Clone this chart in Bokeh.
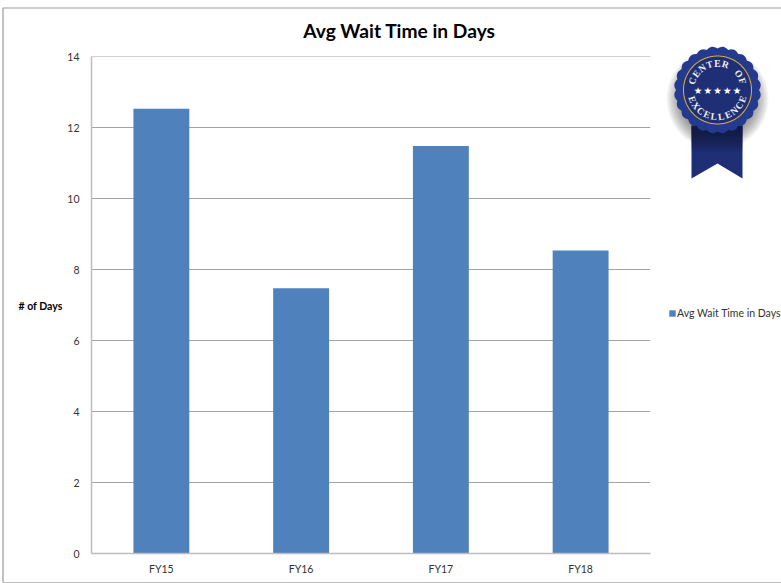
import math
from bokeh.plotting import figure
from bokeh.embed import file_html
from bokeh.layouts import column
from bokeh.resources import INLINE
from bokeh.core.properties import value
from bokeh.models import (ColumnDataSource, Range1d, FactorRange, Legend, LegendItem, FixedTicker)

categories = ["FY15", "FY16", "FY17", "FY18"]
avg_wait_days = [12.54, 7.48, 11.49, 8.54]
y_ticks = [0, 2, 4, 6, 8, 10, 12, 14]
title_text = "Avg Wait Time in Days"
series_name = "Avg Wait Time in Days"
y_label = "# of Days"
BAR = "#4f81bd"
FONT = "Lato"
W, H = 781, 583
FL, FB = 91, 553

# ---------- page layer: border, title, legend, badge, in page pixels ----------
d = figure(width=W, height=H, output_backend="svg", toolbar_location=None,
           x_range=Range1d(0, W), y_range=Range1d(H, 0), min_border=0,
           x_axis_location=None, y_axis_location=None, title=None, frame_align=False)
d.grid.visible = False
d.outline_line_color = None
d.margin = (0, 0, -H, 0)


def text(x, y, s, size, color="#000000", style="normal", font=FONT, angle=0.0):
    d.text(x=[x], y=[y], text=[s], text_font=value(font), text_font_size=value(size), text_color=color,
           text_font_style=style, angle=angle, text_align="center", text_baseline="middle")


d.line([785, 2.5, 2.5], [7.5, 7.5, 582], line_color="#9a9a9a", line_width=1.2)
d.line([2.5, 785], [582, 582], line_color="#bdbdbd", line_width=1.2)
text(399, 30, title_text, "19.2px", "#000000", "bold")
text(40, 305.5, y_label, "10.5px", "#000000", "bold")

swatch = d.vbar(x=[-100], top=[-100], bottom=[-110], width=5, fill_color=BAR, line_color=None)
legend = Legend(items=[LegendItem(label=series_name, renderers=[swatch])], location=(668, 264),
                border_line_color=None, background_fill_alpha=0, margin=0, padding=0,
                glyph_width=8, glyph_height=8, label_text_font=FONT, label_text_font_size="10.5px",
                label_text_color="#333333", label_standoff=1)
d.add_layout(legend)

cx, cy = 717.0, 89.5
for k in range(14):
    r = 51 - k * 1.4
    n = 48
    d.patch([cx + r * math.cos(2 * math.pi * i / n) for i in range(n)],
            [cy + 9 + r * math.sin(2 * math.pi * i / n) for i in range(n)],
            fill_color="#000000", fill_alpha=0.045, line_color=None)
top, bot, notch = 125.0, 178.0, 163.0
xl, xr = 691.0, 742.0
d.patch([xl, xr, xr, cx, xl], [top, top, bot, notch, bot], fill_color="#1f2f75", line_color=None)
for k in range(8):
    y0 = 130 + k * 3
    d.patch([xl, xr, xr, xl], [top, top, y0, y0], fill_color="#0b1230", fill_alpha=0.14, line_color=None)
n = 288
sc = [41.5 + 2.0 * abs(math.sin(12 * 2 * math.pi * i / n)) for i in range(n)]
d.patch([cx + sc[i] * math.cos(2 * math.pi * i / n) for i in range(n)],
        [cy + sc[i] * math.sin(2 * math.pi * i / n) for i in range(n)], fill_color="#25398f", line_color=None)
for r, c in ((34.5, "#d9b23a"), (33.5, "#1f2f75")):
    d.patch([cx + r * math.cos(2 * math.pi * i / 90) for i in range(90)],
            [cy + r * math.sin(2 * math.pi * i / 90) for i in range(90)], fill_color=c, line_color=None)


def arc_text(s, r, mid_deg, step_deg, flip):
    m = len(s)
    for i, ch in enumerate(s):
        off = (i - (m - 1) / 2) * step_deg
        deg = mid_deg - off if flip else mid_deg + off
        a = math.radians(deg)
        rot = -math.radians(deg - 90) if flip else -math.radians(deg - 270)
        text(cx + r * math.cos(a), cy + r * math.sin(a), ch, "9.5px", "#f2f2f2", "bold", "Liberation Serif", rot)


arc_text("CENTER OF", 26.5, 270, 17.5, False)
arc_text("EXCELLENCE", 27.0, 90, 15.5, True)
for i in range(5):
    text(cx - 19.5 + i * 9.75, 90, "\u2605", "9.5px", "white", font="DejaVu Sans")

# ---------- chart layer ----------
p = figure(width=W, height=H, output_backend="svg", toolbar_location=None,
           x_range=FactorRange(factors=categories, range_padding=0),
           y_range=Range1d(0, 14.01), min_border_left=FL, min_border_right=131,
           min_border_top=56, min_border_bottom=H - FB, title=None, frame_align=False)
p.outline_line_color = None
p.background_fill_alpha = 0
p.border_fill_alpha = 0

src = ColumnDataSource(dict(cat=categories, val=avg_wait_days))
bars = p.vbar(x="cat", top="val", width=0.4, source=src, fill_color=BAR, line_color=None)

p.xgrid.visible = False
p.ygrid.ticker = FixedTicker(ticks=y_ticks)
p.ygrid.grid_line_color = "#a3a3a3"
p.ygrid.grid_line_width = 1
p.yaxis.ticker = FixedTicker(ticks=y_ticks)
for ax in (p.xaxis[0], p.yaxis[0]):
    ax.major_tick_line_color = None
    ax.minor_tick_line_color = None
    ax.axis_line_color = "#bdbdbd"
    ax.axis_line_width = 1.5
    ax.major_label_text_font = FONT
    ax.major_label_text_font_size = "10.5px"
    ax.major_label_text_color = "#333333"
p.xaxis.major_label_standoff = 3
p.yaxis.major_label_standoff = 6

page = column(d, p, spacing=0)
open("out.html", "w").write(file_html(page, INLINE))
